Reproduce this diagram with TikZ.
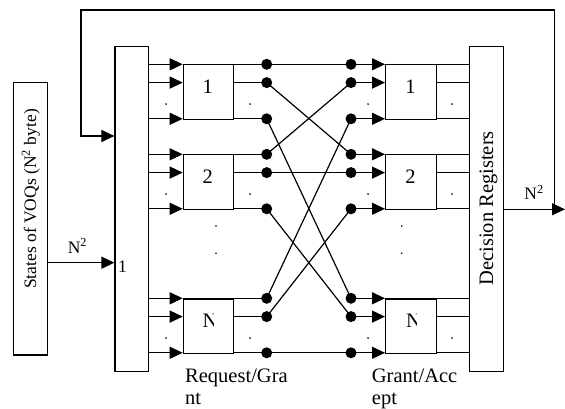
\documentclass[tikz,border=0pt]{standalone}
\usepackage{fontspec}
\setmainfont{Liberation Serif}
\usetikzlibrary{arrows.meta}
\begin{document}
\begin{tikzpicture}[x=1pt,y=-1pt,
  box/.style={draw, line width=1.2pt, inner sep=0pt},
  wire/.style={line width=1.2pt},
  arr/.style={wire, -{Triangle[length=13pt,width=12pt]}},
  dotc/.style={circle, fill, inner sep=0pt, minimum size=11pt},
  sepdot/.style={circle, fill, inner sep=0pt, minimum size=1.8pt},
  big/.style={font=\fontsize{20.5}{23}\selectfont},
  mid/.style={font=\fontsize{17.5}{20}\selectfont},
]
\useasboundingbox (0,0) rectangle (565,409);

% main blocks
\node[box, minimum width=33.3pt, minimum height=325pt] (L) at (131.65,209.2) {};
\node[box, minimum width=34pt, minimum height=325pt] (D) at (486.3,209.2) {};
\node[box, minimum width=34pt, minimum height=272.3pt] (S) at (30.3,218.85) {};
\node[mid, rotate=90] (Stxt) at (30.8,199) {States of VOQs (N\textsuperscript{2} byte)};
\node[big, rotate=90] (Dtxt) at (488.5,208.3) {Decision Registers};

% request / grant blocks and their wires
\foreach \k/\t in {1/64.3, 2/154.3, 3/298.3} {
  \node[box, minimum width=50pt, minimum height=54.5pt, anchor=north west] (q\k) at (182.7,\t) {};
  \node[box, minimum width=51pt, minimum height=54.5pt, anchor=north west] (g\k) at (385,\t) {};
  \foreach \r/\o in {a/0, b/18.3, c/54.5} {
    \coordinate (l\k\r) at (266.7,\t+\o);
    \coordinate (r\k\r) at (351,\t+\o);
    \draw[arr] (L.east |- l\k\r) -- (q\k.west |- l\k\r);
    \draw[wire] (q\k.east |- l\k\r) -- (l\k\r);
    \draw[arr] (r\k\r) -- (g\k.west |- r\k\r);
    \draw[wire] (g\k.east |- r\k\r) -- (D.west |- r\k\r);
  }
  \node[sepdot] (s1\k) at (166,\t+39.8) {};
  \node[sepdot] (s2\k) at (250,\t+39.8) {};
  \node[sepdot] (s3\k) at (368,\t+39.8) {};
  \node[sepdot] (s4\k) at (452,\t+39.8) {};
}
\node[big] (q1t) at (207.7,86.3) {1};
\node[big] (g1t) at (410.5,86.3) {1};
\node[big] (q2t) at (207.7,176.3) {2};
\node[big] (g2t) at (410.5,176.3) {2};
\begin{scope}
  \clip (190,300) rectangle (213.3,350);
  \node[big] (q3t) at (210,320.3) {N};
\end{scope}
\begin{scope}
  \clip (395,300) rectangle (416.7,350);
  \node[big] (g3t) at (413.4,320.3) {N};
\end{scope}

% vertical ellipsis between block 2 and block N
\node[sepdot] (v1) at (216,226) {};
\node[sepdot] (v2) at (216,253.3) {};
\node[sepdot] (v3) at (401.7,226) {};
\node[sepdot] (v4) at (401.7,253.3) {};

% crossing wires
\draw[wire] (l1a) -- (r1a);
\draw[wire] (l1b) -- (r2a);
\draw[wire] (l1c) -- (r3a);
\draw[wire] (l2a) -- (r1b);
\draw[wire] (l2b) -- (r2b);
\draw[wire] (l2c) -- (r3b);
\draw[wire] (l3a) -- (r1c);
\draw[wire] (l3b) -- (r2c);
\draw[wire] (l3c) -- (r3c);

% dots
\foreach \k in {1,2,3} {
  \foreach \r in {a,b,c} {
    \node[dotc] (dl\k\r) at (l\k\r) {};
    \node[dotc] (dr\k\r) at (r\k\r) {};
  }
}

% input from states
\coordinate (sa) at (47.3,262.7);
\draw[arr] (S.east |- sa) -- (L.west |- sa);
\node[mid, anchor=base] (n2a) at (77.4,253) {N\textsuperscript{2}};
\node[mid] (one) at (122.5,266.5) {1};

% output and feedback
\coordinate (j) at (554.3,209.3);
\coordinate (out) at (565,209.3);
\coordinate (tl) at (81,10);
\coordinate (fb) at (81,136);
\draw[arr] (D.east |- j) -- (out);
\draw[arr] (j) |- (tl) -- (fb) -- (L.west |- fb);
\node[mid, anchor=base] (n2b) at (534,200) {N\textsuperscript{2}};

% bottom labels
\node[big, anchor=base west, inner sep=0pt] (lq1) at (185,382) {Request/Gra};
\node[big, anchor=base west, inner sep=0pt] (lq2) at (185,404.2) {nt};
\node[big, anchor=base west, inner sep=0pt] (lg1) at (371.7,382) {Grant/Acc};
\node[big, anchor=base west, inner sep=0pt] (lg2) at (371.7,404.2) {ept};
\end{tikzpicture}
\end{document}
